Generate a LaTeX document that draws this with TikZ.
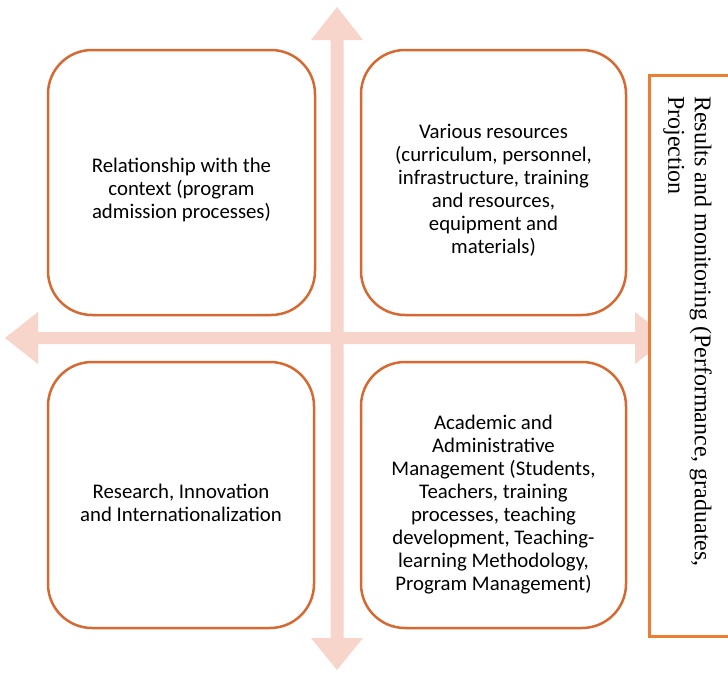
\documentclass[tikz,border=0pt]{standalone}
\usepackage{fontspec}
\newfontfamily\carlito{Carlito}
\newfontfamily\tnr{Liberation Serif}
\usetikzlibrary{calc}
\definecolor{boxline}{RGB}{212,106,50}
\definecolor{rline}{RGB}{237,125,49}
\definecolor{arrowfill}{RGB}{247,213,203}
\tikzset{
  qbox/.style={draw=boxline, line width=2.5pt, rounded corners=44pt, fill=white, inner sep=0pt},
  qtext/.style={font=\carlito\fontsize{20.8}{23}\selectfont, align=center, inner sep=0pt},
  rbox/.style={draw=rline, line width=3pt, fill=white, inner sep=0pt},
  rtext/.style={font=\tnr\fontsize{24}{26.5}\selectfont, align=left, inner sep=0pt, rotate=-90, anchor=north west},
  bigarrow/.style={fill=arrowfill, draw=none}
}
\begin{document}
\begin{tikzpicture}[x=1pt,y=-1pt]
\useasboundingbox (0,0) rectangle (728,672);
\clip (0,0) rectangle (728,672);
\fill[white] (0,0) rectangle (728,672);
% arrows
\fill[bigarrow] (337,7) -- (363,40) -- (343.5,40) -- (343.5,638) -- (363,638) -- (337,670)
  -- (311,638) -- (330.5,638) -- (330.5,40) -- (311,40) -- cycle;
\fill[bigarrow] (5,338) -- (38,312) -- (38,332) -- (635,332) -- (635,312) -- (668,338)
  -- (635,364) -- (635,344) -- (38,344) -- (38,364) -- cycle;
% boxes
\node[qbox, minimum width=267pt, minimum height=265pt] (tl) at (181.5,182.5) {};
\node[qbox, minimum width=265pt, minimum height=265pt] (tr) at (493.5,182.5) {};
\node[qbox, minimum width=266pt, minimum height=266pt] (bl) at (181,495) {};
\node[qbox, minimum width=265pt, minimum height=266pt] (br) at (493.5,495) {};
\node[qtext] (tlt) at ($(tl.center)+(0,7.5)$) {Relationship with the\\context (program\\admission processes)};
\node[qtext] (trt) at ($(tr.center)+(0,8)$) {Various resources\\(curriculum, personnel,\\infrastructure, training\\and resources,\\equipment and\\materials)};
\node[qtext] (blt) at ($(bl.center)+(0,8)$) {Research, Innovation\\and Internationalization};
\node[qtext] (brt) at ($(br.center)+(0,10)$) {Academic and\\Administrative\\Management (Students,\\Teachers, training\\processes, teaching\\development, Teaching-\\learning Methodology,\\Program Management)};
% right box
\node[rbox, minimum width=100pt, minimum height=561pt] (rb) at (699,355.5) {};
\node[rtext] (rbt) at (712,96) {Results and monitoring (Performance, graduates,\\Projection};
\end{tikzpicture}
\end{document}
